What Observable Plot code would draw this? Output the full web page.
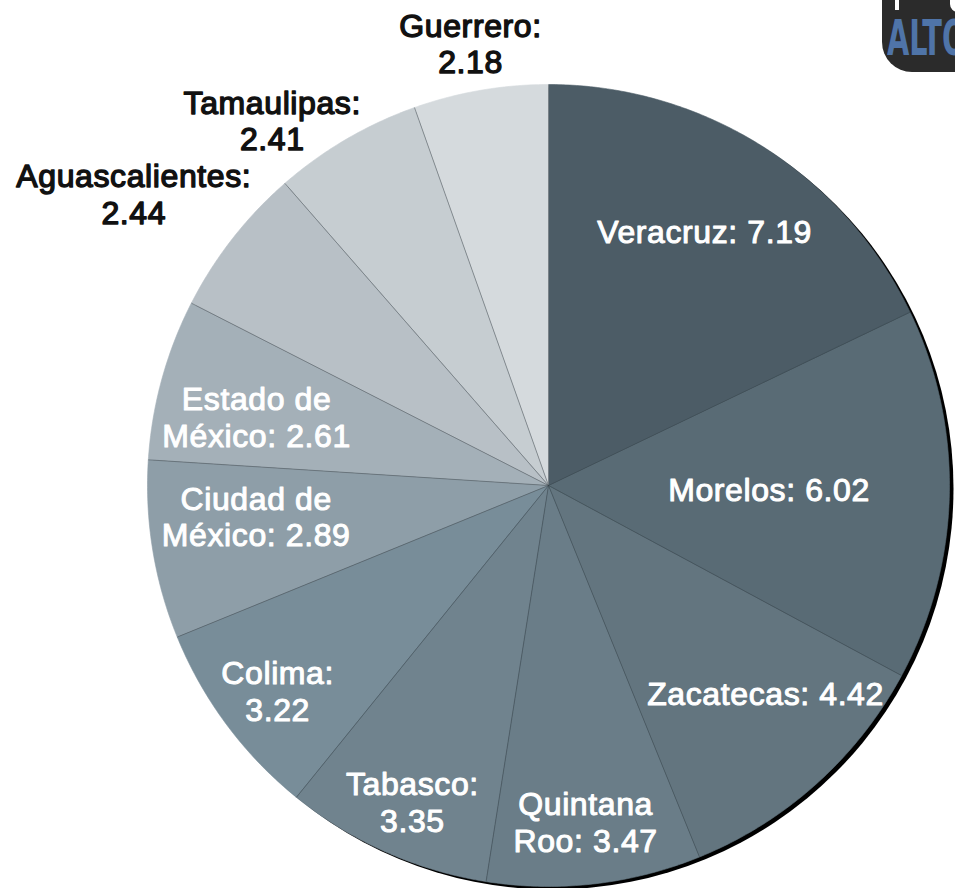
<!DOCTYPE html>
<html>
<head>
<meta charset="utf-8">
<script src="https://cdn.jsdelivr.net/npm/d3@7"></script>
<script src="https://cdn.jsdelivr.net/npm/@observablehq/plot@0.6"></script>
<style>
  html, body { margin: 0; padding: 0; background: #fff; }
  #wrap { position: relative; width: 955px; height: 888px; overflow: hidden; }
  #chart svg text { letter-spacing: 0.6px; }
  #logo { position: absolute; left: 882px; top: -12px; width: 100px; height: 84px;
          background: #2b2b2b; border-bottom-left-radius: 30px; overflow: hidden; }
  #logo span { position: absolute; left: 5px; top: 25px; font-family: "DejaVu Sans Condensed", "Liberation Sans Narrow", sans-serif;
          font-weight: bold; font-size: 50px; color: #4f74a8; letter-spacing: 0px; transform: scaleX(0.64); transform-origin: left top; line-height: 1; }
  #logo i { position: absolute; background: #fff; }
</style>
</head>
<body>
<div id="wrap">
  <div id="chart"></div>
  <div id="logo"><i style="left:13px;top:0;width:4px;height:22px"></i><i style="left:68px;top:0;width:32px;height:24px;border-radius:0 0 0 8px"></i><span>ALTO</span></div>
</div>
<script>
// ---- data ----
const states = ["Veracruz", "Morelos", "Zacatecas", "Quintana Roo", "Tabasco", "Colima",
  "Ciudad de México", "Estado de México", "Aguascalientes", "Tamaulipas", "Guerrero"];
const values = [7.19, 6.02, 4.42, 3.47, 3.35, 3.22, 2.89, 2.61, 2.44, 2.41, 2.18];
const labelTemplates = ["Veracruz: {v}", "Morelos: {v}", "Zacatecas: {v}", "Quintana\nRoo: {v}",
  "Tabasco:\n{v}", "Colima:\n{v}", "Ciudad de\nMéxico: {v}", "Estado de\nMéxico: {v}",
  "Aguascalientes:\n{v}", "Tamaulipas:\n{v}", "Guerrero:\n{v}"];
const colors = ["#4c5c66", "#596b75", "#63757f", "#6a7d88", "#70838e", "#788d99",
  "#8e9ea8", "#a4b0b8", "#b8c0c6", "#c6cdd1", "#d5dadd"];
// label placement (degrees clockwise from top, radius as fraction of pie radius)
const labelAngle = [31.5, 91.0, 133.8, 173.7, 203.3, 232.8, 264.0, 283.3, 305.1, 322.9, 350.0];
const labelRadius = [0.745, 0.55, 0.75, 0.843, 0.858, 0.848, 0.733, 0.748, 1.264, 1.142, 1.12];
const outside = [false, false, false, false, false, false, false, false, true, true, true];

// ---- geometry ----
const W = 955, H = 888, CX = 548, CY = 485, R = 401;
const total = d3.sum(values);
const rad = d => d * Math.PI / 180;
const slices = [];
const boundaries = [];
let acc = 0;
states.forEach((s, i) => {
  const a0 = acc / total * 360;
  acc += values[i];
  const a1 = acc / total * 360;
  boundaries.push({a: a0});
  const n = Math.max(2, Math.ceil((a1 - a0) / 0.5));
  slices.push({name: s, x: 0, y: 0});
  for (let k = 0; k <= n; k++) {
    const a = rad(a0 + (a1 - a0) * k / n);
    slices.push({name: s, x: Math.sin(a), y: Math.cos(a)});
  }
  slices.push({name: s, x: 0, y: 0});
});
const labels = states.map((s, i) => ({
  text: labelTemplates[i].replace("{v}", values[i].toFixed(2)),
  x: labelRadius[i] * Math.sin(rad(labelAngle[i])),
  y: labelRadius[i] * Math.cos(rad(labelAngle[i])),
  outside: outside[i]
}));

const chart = Plot.plot({
  width: W, height: H,
  marginTop: 0, marginRight: 0, marginBottom: 0, marginLeft: 0,
  x: {domain: [-CX / R, (W - CX) / R], range: [0, W], axis: null},
  y: {domain: [-(H - CY) / R, CY / R], range: [H, 0], axis: null},
  color: {domain: states, range: colors},
  style: {fontFamily: "'Liberation Sans', Arial, sans-serif", background: "white"},
  marks: [
    Plot.dot([{x: 0, y: 0}], {x: "x", y: "y", r: R, fill: "#000", stroke: "none", dx: 4, dy: 3}),
    Plot.line(slices, {x: "x", y: "y", z: "name", fill: "name", stroke: "name", strokeWidth: 0.6, curve: "linear"}),
    Plot.link(boundaries, {x1: 0, y1: 0, x2: d => Math.sin(rad(d.a)), y2: d => Math.cos(rad(d.a)),
      stroke: "#2f3a40", strokeOpacity: 0.45, strokeWidth: 1}),
    Plot.text(labels, {x: "x", y: "y", text: "text", fill: d => d.outside ? "#111" : "#fff",
      stroke: d => d.outside ? "#111" : "#fff", strokeWidth: d => d.outside ? 1.4 : 1.0, paintOrder: "fill",
      fontSize: 32, fontWeight: "normal", lineHeight: 1.15, textAnchor: "middle", lineAnchor: "middle"})
  ]
});
document.getElementById("chart").appendChild(chart);
</script>
</body>
</html>
